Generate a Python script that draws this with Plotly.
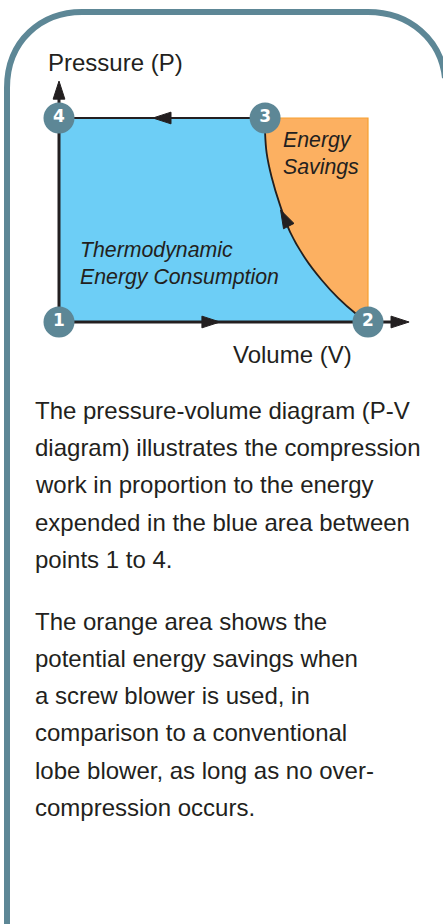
import plotly.graph_objects as go

# Chart values: V and P in percent of the full diagram box
curve_v = [66.7, 66.7, 67.2, 68.8, 71.5, 74.8, 79.6, 85.0, 90.3, 95.8, 100]
curve_p = [100, 92.6, 82.8, 71.1, 57.4, 44.1, 31.4, 20.6, 11.8, 4.4, 0]
point_v = [0, 100, 66.7, 0]
point_p = [0, 0, 100, 100]
point_labels = ["1", "2", "3", "4"]
axis_v_end = 108
axis_p_end = 113
flow_v = [52.1, 113.3, 30.4, 0, 71.7]
flow_p = [0, 0, 100, 118.1, 54.9]
flow_angle = [90, 90, -90, 0, -27]

body_lines = [
    "The pressure-volume diagram (P-V", "diagram) illustrates the compression",
    "work in proportion to the energy", "expended in the blue area between", "points 1 to 4.",
    "The orange area shows the", "potential energy savings when", "a screw blower is used, in",
    "comparison to a conventional", "lobe blower, as long as no over-", "compression occurs.",
]
body_y = [410, 447.5, 484.5, 522, 559, 621, 658, 695, 732.5, 770, 807]

W, H = 443, 924
X0, Y0, SX, SY = 59, 322, 3.09, 2.04
INK, TEAL = "#231f20", "#5d8796"
FONT = "Liberation Sans"

fig = go.Figure()
# orange area
fig.add_trace(go.Scatter(x=[curve_v[0], 100, 100] + curve_v[::-1][1:], y=[100, 100, 0] + curve_p[::-1][1:],
                         mode="lines", fill="toself", fillcolor="#fcb061",
                         line=dict(color="#f7a030", width=1.2), hoverinfo="skip"))
# blue area
fig.add_trace(go.Scatter(x=[0, 0] + curve_v + [0], y=[0, 100] + curve_p + [0],
                         mode="lines", fill="toself", fillcolor="#6dcef6",
                         line=dict(width=0), hoverinfo="skip"))
# axes and cycle lines
fig.add_trace(go.Scatter(x=[0, 0], y=[0, axis_p_end], mode="lines", line=dict(color=INK, width=3)))
fig.add_trace(go.Scatter(x=[0, axis_v_end], y=[0, 0], mode="lines", line=dict(color=INK, width=3)))
fig.add_trace(go.Scatter(x=[0, point_v[2]], y=[100, 100], mode="lines", line=dict(color=INK, width=2)))
fig.add_trace(go.Scatter(x=curve_v, y=curve_p, mode="lines", line=dict(color=INK, width=1.8, shape="spline", smoothing=1)))
# flow arrows
fig.add_trace(go.Scatter(x=flow_v, y=flow_p, mode="markers",
                         marker=dict(symbol="arrow", size=19, color=INK, angle=flow_angle, line=dict(width=1, color=INK))))
# numbered points
fig.add_trace(go.Scatter(x=point_v, y=point_p, mode="markers+text", text=point_labels,
                         textposition="middle center", textfont=dict(family="DejaVu Sans", size=17, color="white", weight=700),
                         marker=dict(size=31, color=TEAL, line=dict(width=0))))

ann = [
    dict(text="Pressure (P)", px=48, py=63, size=24),
    dict(text="Volume (V)", px=233, py=354, size=24),
    dict(text="<i>Energy</i>", px=283, py=140, size=21.3),
    dict(text="<i>Savings</i>", px=283, py=167, size=21.3),
    dict(text="<i>Thermodynamic</i>", px=80, py=250, size=21.3),
    dict(text="<i>Energy Consumption</i>", px=80, py=277, size=21.3),
]
ann += [dict(text=t, px=35, py=y, size=24) for t, y in zip(body_lines, body_y)]
for a in ann:
    fig.add_annotation(text=a["text"], xref="paper", yref="paper", x=a["px"] / W, y=1 - a["py"] / H,
                       xanchor="left", yanchor="middle", showarrow=False, align="left",
                       font=dict(family=FONT, size=a["size"], color=INK), borderpad=0, borderwidth=0)

def p(x, y):
    return f"{x / W:.5f} {1 - y / H:.5f}"

frame = (f"M {p(7, 930)} L {p(7, 88)} C {p(7, 40)} {p(42, 12)} {p(82, 12)} "
         f"L {p(368, 12)} C {p(410, 12)} {p(441, 40)} {p(445, 78)}")
fig.add_shape(type="path", path=frame, xref="paper", yref="paper",
              line=dict(color=TEAL, width=6), layer="below")

fig.update_xaxes(range=[-X0 / SX, (W - X0) / SX], visible=False, fixedrange=True)
fig.update_yaxes(range=[(Y0 - H) / SY, Y0 / SY], visible=False, fixedrange=True)
fig.update_layout(width=W, height=H, margin=dict(l=0, r=0, t=0, b=0), showlegend=False,
                  paper_bgcolor="white", plot_bgcolor="white", hovermode=False)
fig.write_html("out.html", config={"displayModeBar": False},
               post_script="document.body.style.margin='0';document.documentElement.style.overflow='hidden';")
